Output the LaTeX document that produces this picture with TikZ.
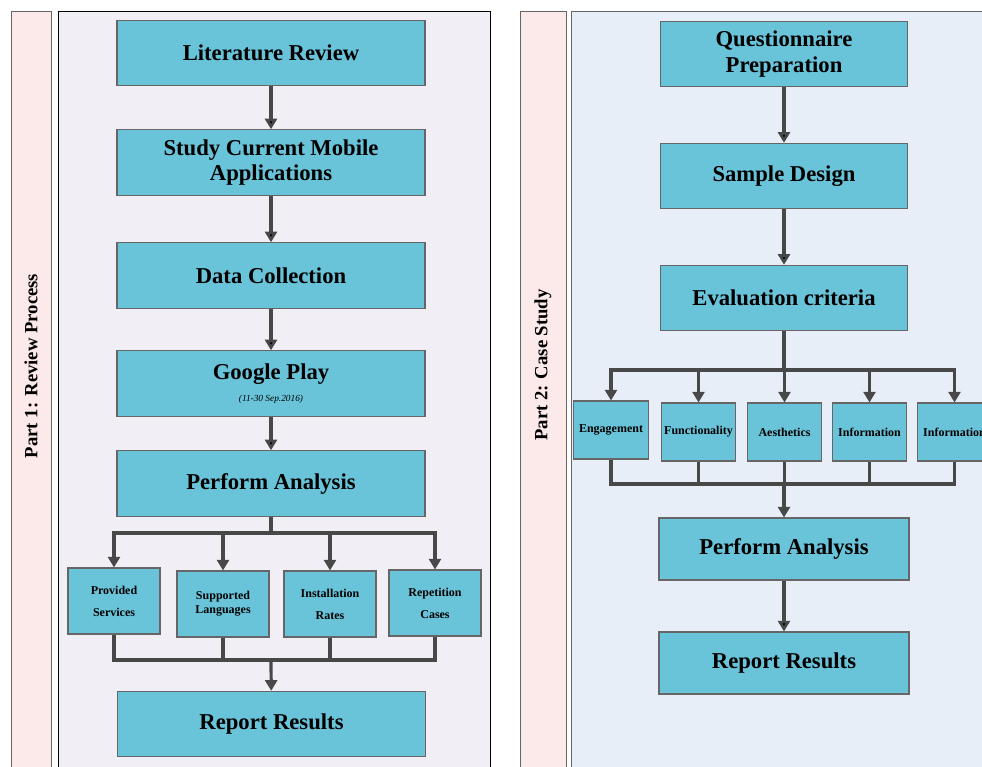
\documentclass[tikz,border=0pt]{standalone}
\usepackage{fontspec}
\setmainfont{Liberation Serif}
\usepackage {tikz}
\usetikzlibrary {positioning}
\usetikzlibrary{arrows.meta}

\definecolor{boxblue}{HTML}{69C4DA}
\definecolor{laneone}{HTML}{F1EFF5}
\definecolor{lanetwo}{HTML}{E8EEF8}
\definecolor{lanetag}{HTML}{FCE9E9}
\definecolor{flowgray}{HTML}{484848}
\definecolor{edgegray}{HTML}{666666}

\begin{document}
\begin{tikzpicture}[x=0.75pt, y=-0.75pt, semithick,
  >={Triangle[length=8pt,width=9pt]},
  flow/.style ={ draw = flowgray, line width = 2.4pt},
  stage/.style ={ rectangle, fill = boxblue, draw = edgegray, line width = 0.8pt,
  text = black, font = \fontsize{17}{19}\selectfont\bfseries, align = center,
  minimum width = 231pt, minimum height = 49pt},
  stage_small/.style ={ stage, minimum width = 185pt},
  item/.style ={ rectangle, fill = boxblue, draw = edgegray, line width = 0.8pt,
  text = black, font = \fontsize{9}{10.5}\selectfont\bfseries, align = center,
  inner sep = 1pt, minimum width = 69pt, minimum height = 49.5pt},
  item_small/.style ={ item, minimum width = 56pt, minimum height = 43.5pt},
  tag/.style ={ rotate = 90, font = \fontsize{14}{16}\selectfont\bfseries}]

  \clip (0,0) rectangle (982,767);
  \fill[white] (0,0) rectangle (982,767);

  % lanes
  \draw[fill = lanetag, draw = edgegray] (11,11) rectangle (51,790);
  \draw[fill = laneone, draw = black] (58,11) rectangle (490,790);
  \draw[fill = lanetag, draw = edgegray] (520,11) rectangle (566,790);
  \draw[fill = lanetwo, draw = edgegray] (571,11) rectangle (1000,790);
  \node[tag] (tag1) at (31,366) {Part 1: Review Process};
  \node[tag] (tag2) at (543,365) {Part 2: Case Study};

  % part 1
  \node[stage] (lr) at (271,53) {Literature Review};
  \node[stage] (scma) at (271,162.5) {Study Current Mobile\\Applications};
  \node[stage] (dc) at (271,275.5) {Data Collection};
  \node[stage] (gp) at (271,383.5) {Google Play\\[-3pt]
    {\fontsize{7}{8}\selectfont\mdseries\itshape (11-30 Sep.2016)}};
  \node[stage] (pa1) at (271,483.5) {Perform Analysis};
  \node[item] (ps) at (114,601) {Provided\\[6pt]Services};
  \node[item] (sl) at (223,604) {Supported\\Languages};
  \node[item] (ir) at (330,604) {Installation\\[6pt]Rates};
  \node[item] (rc) at (435,603) {Repetition\\[6pt]Cases};
  \node[stage] (rr1) at (271.5,724) {Report Results};
  \coordinate (b1) at (271,533);
  \coordinate (m1) at (271,660);

  \path[flow, ->] (lr) edge (scma);
  \path[flow, ->] (scma) edge (dc);
  \path[flow, ->] (dc) edge (gp);
  \path[flow, ->] (gp) edge (pa1);
  \draw[flow] (pa1) -- (b1);
  \foreach \k in {ps, sl, ir, rc}
    \draw[flow, ->] (b1) -| (\k.north);
  \foreach \k in {ps, sl, ir, rc}
    \draw[flow] (\k.south) |- (m1);
  \draw[flow, ->] (m1) -- (rr1);

  % part 2
  \node[stage_small] (qp) at (784,54) {Questionnaire\\Preparation};
  \node[stage_small] (sd) at (784,176) {Sample Design};
  \node[stage_small] (ec) at (784,298) {Evaluation criteria};
  \node[item_small] (en) at (611,430) {Engagement};
  \node[item_small] (fu) at (698.5,432) {Functionality};
  \node[item_small] (ae) at (784.5,432) {Aesthetics};
  \node[item_small] (in1) at (869.5,432) {Information};
  \node[item_small] (in2) at (954.5,432) {Information};
  \node[stage_small, minimum width = 187.5pt, minimum height = 46.5pt] (pa2) at (784,549) {Perform Analysis};
  \node[stage_small, minimum width = 187.5pt, minimum height = 46.5pt] (rr2) at (784,663) {Report Results};
  \coordinate (b2) at (784,370);
  \coordinate (m2) at (784,484);

  \path[flow, ->] (qp) edge (sd);
  \path[flow, ->] (sd) edge (ec);
  \draw[flow] (ec) -- (b2);
  \foreach \k in {en, fu, ae, in1, in2}
    \draw[flow, ->] (b2) -| (\k.north);
  \foreach \k in {en, fu, ae, in1, in2}
    \draw[flow] (\k.south) |- (m2);
  \draw[flow, ->] (m2) -- (pa2);
  \path[flow, ->] (pa2) edge (rr2);
\end{tikzpicture}
\end{document}
